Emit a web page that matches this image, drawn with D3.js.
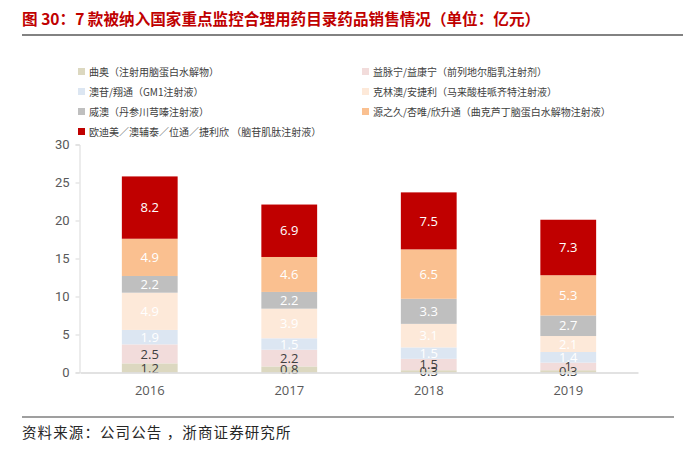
<!DOCTYPE html>
<html>
<head>
<meta charset="utf-8">
<script src="https://cdn.jsdelivr.net/npm/d3@7"></script>
<style>
  body { margin: 0; background: #fff; }
  svg { font-family: "Noto Sans CJK SC", "Noto Sans", sans-serif; }
</style>
</head>
<body>
<svg id="chart" width="700" height="461"></svg>
<script>
// Dados do gráfico
const years = ['2016', '2017', '2018', '2019'];
const seriesNames = [
  '曲奥（注射用脑蛋白水解物）',
  '益脉宁/益康宁（前列地尔脂乳注射剂）',
  '澳苷/翔通（GM1注射液）',
  '克林澳/安捷利（马来酸桂哌齐特注射液）',
  '威澳（丹参川芎嗪注射液）',
  '源之久/杏唯/欣升通（曲克芦丁脑蛋白水解物注射液）',
  '欧迪美／澳辅泰／位通／捷利欣 （脑苷肌肽注射液）'
];
const quAo = [1.2, 0.8, 0.3, 0.3];
const yiMai = [2.5, 2.2, 1.5, 1.0];
const aoGan = [1.9, 1.5, 1.5, 1.4];
const keLin = [4.9, 3.9, 3.1, 2.1];
const weiAo = [2.2, 2.2, 3.3, 2.7];
const yuanZhi = [4.9, 4.6, 6.5, 5.3];
const ouDi = [8.2, 6.9, 7.5, 7.3];
const yTicks = [0, 5, 10, 15, 20, 25, 30];

const seriesValues = [quAo, yiMai, aoGan, keLin, weiAo, yuanZhi, ouDi];
const colors = ['#dcd8c0', '#f2dcdb', '#dce6f2', '#fde9d9', '#bfbfbf', '#fac090', '#c00000'];
const labelColors = ['#404040', '#404040', '#fff', '#fff', '#fff', '#fff', '#fff'];
const labelText = (v) => (v === 1 ? '1' : v.toFixed(1));

const svg = d3.select('#chart');

// Título
svg.append('text')
  .attr('x', 22).attr('y', 25)
  .attr('fill', '#c00000')
  .attr('font-size', '15.6px')
  .attr('font-weight', 'bold')
  .text('图 30：7 款被纳入国家重点监控合理用药目录药品销售情况（单位：亿元）');
svg.append('line')
  .attr('x1', 22).attr('x2', 683).attr('y1', 35).attr('y2', 35)
  .attr('stroke', '#595959').attr('stroke-width', 1.5);

// Tabela empilhada
const table = years.map((year, i) => {
  const row = { year };
  seriesValues.forEach((vals, k) => { row['s' + k] = vals[i]; });
  return row;
});
const keys = seriesValues.map((_, k) => 's' + k);
const stacked = d3.stack().keys(keys)(table);

const x = d3.scaleBand().domain(years).range([80, 638]).paddingInner(0.6).paddingOuter(0.3);
const y = d3.scaleLinear().domain([0, 30]).range([372.5, 144.5]);

// Eixo Y
const yAxis = svg.append('g')
  .attr('transform', 'translate(79.5,0)')
  .call(d3.axisLeft(y).tickValues(yTicks).tickSize(4).tickPadding(6));
yAxis.select('.domain').attr('stroke', '#d9d9d9');
yAxis.selectAll('.tick line').attr('stroke', '#d9d9d9');
yAxis.selectAll('.tick text')
  .attr('fill', '#595959')
  .attr('font-size', '13px')
  .attr('font-family', 'Roboto, "Noto Sans", sans-serif');

// Barras
const groups = svg.append('g').selectAll('g').data(stacked).join('g')
  .attr('fill', (d, k) => colors[k]);
groups.selectAll('rect').data(d => d).join('rect')
  .attr('x', d => x(d.data.year))
  .attr('y', d => y(d[1]))
  .attr('width', x.bandwidth())
  .attr('height', d => y(d[0]) - y(d[1]));

// Rótulos
stacked.forEach((layer, k) => {
  svg.append('g').selectAll('text').data(layer).join('text')
    .attr('x', d => x(d.data.year) + x.bandwidth() / 2)
    .attr('y', d => (y(d[0]) + y(d[1])) / 2)
    .attr('dy', '0.36em')
    .attr('text-anchor', 'middle')
    .attr('fill', labelColors[k])
    .attr('font-size', '13px')
    .attr('font-family', '"Open Sans", "Noto Sans", sans-serif')
    .text((d, i) => labelText(seriesValues[k][i]));
});

// Eixo X
const xAxis = svg.append('g')
  .attr('transform', 'translate(0,372.5)')
  .call(d3.axisBottom(x).tickSize(0).tickPadding(13));
xAxis.select('.domain').attr('stroke', '#d9d9d9').attr('stroke-width', 1.5);
xAxis.selectAll('.tick text')
  .attr('fill', '#595959')
  .attr('font-size', '13px')
  .attr('font-family', '"Open Sans", "Noto Sans", sans-serif');

// Legenda
const legend = svg.append('g').selectAll('g').data(seriesNames).join('g')
  .attr('transform', (d, k) => {
    const col = k % 2;
    const row = Math.floor(k / 2);
    return `translate(${col === 0 ? 78 : 362},${72 + row * 20})`;
  });
legend.append('rect')
  .attr('x', 0).attr('y', -4)
  .attr('width', 7).attr('height', 7)
  .attr('fill', (d, k) => colors[k]);
legend.append('text')
  .attr('x', 11).attr('dy', '0.35em')
  .attr('font-size', '10px')
  .attr('fill', '#404040')
  .text(d => d);

// Fonte
svg.append('line')
  .attr('x1', 22).attr('x2', 674).attr('y1', 417).attr('y2', 417)
  .attr('stroke', '#7f7f7f').attr('stroke-width', 1.5);
svg.append('text')
  .attr('x', 22).attr('y', 438)
  .attr('fill', '#262626')
  .attr('font-size', '14.5px')
  .attr('letter-spacing', '1.1px')
  .text('资料来源：公司公告 ，浙商证券研究所');
</script>
</body>
</html>
